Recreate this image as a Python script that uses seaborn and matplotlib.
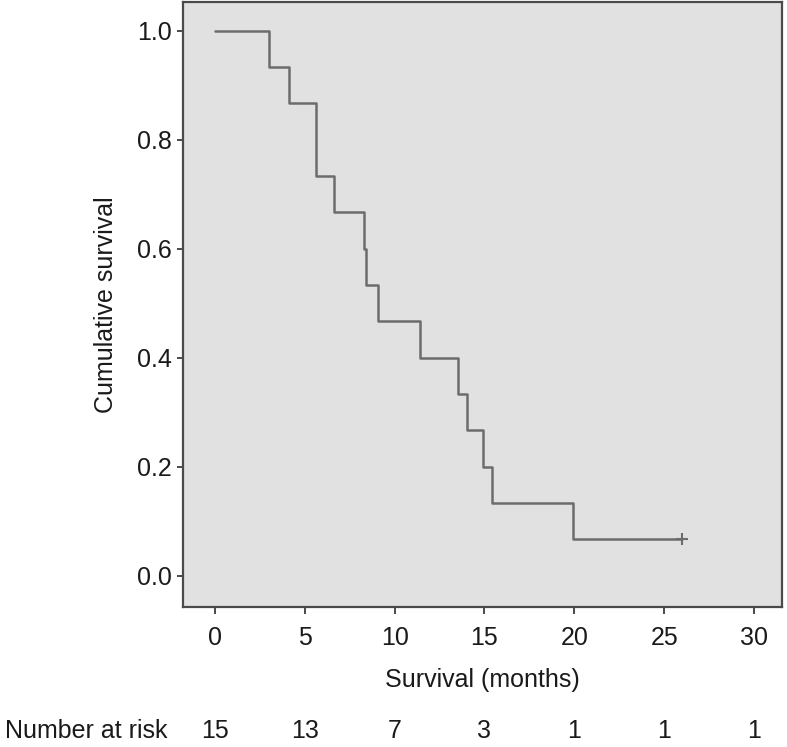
import matplotlib
matplotlib.use("Agg")
import matplotlib.pyplot as plt
import matplotlib.transforms as mtransforms
import seaborn as sns
import pandas as pd

# Data (Kaplan-Meier step curve)
step_times = [0.0, 3.0, 4.1, 5.6, 6.6, 8.3, 8.4, 9.1, 11.4, 13.5, 14.0, 14.9, 15.4, 19.9, 26.0]
step_surv = [1.0, 0.933, 0.867, 0.733, 0.667, 0.600, 0.533, 0.467, 0.400, 0.333, 0.267, 0.200, 0.133, 0.067, 0.067]
censor_times = [26.0]
censor_surv = [0.067]
x_ticks = [0, 5, 10, 15, 20, 25, 30]
y_ticks = [0.0, 0.2, 0.4, 0.6, 0.8, 1.0]
at_risk = [15, 13, 7, 3, 1, 1, 1]

sns.set_theme(style="ticks")
plt.rcParams['font.family'] = ['Liberation Sans', 'DejaVu Sans']

df = pd.DataFrame({"time": step_times, "surv": step_surv})
cdf = pd.DataFrame({"time": censor_times, "surv": censor_surv})

FS = 18
fig = plt.figure(figsize=(7.87, 7.47), dpi=100)
ax = fig.add_axes([183/787, 1-607/747, (782-183)/787, (607-2)/747])
ax.set_facecolor("#e1e1e1")

sns.lineplot(data=df, x="time", y="surv", ax=ax, drawstyle="steps-post",
             color="#6c6c6c", linewidth=1.8, errorbar=None)
sns.scatterplot(data=cdf, x="time", y="surv", ax=ax, marker="+", s=70,
                color="#6c6c6c", linewidth=1.5, zorder=3)

ax.set_xlim(-1.78, 31.56)
ax.set_ylim(-0.057, 1.053)
ax.set_xticks(x_ticks)
ax.set_xticklabels([str(t) for t in x_ticks])
ax.set_yticks(y_ticks)
ax.set_yticklabels([f"{v:.1f}" for v in y_ticks])

for s in ax.spines.values():
    s.set_color("#4a4a4a")
    s.set_linewidth(1.6)
    s.set_visible(True)

ax.tick_params(axis="both", direction="out", colors="#4a4a4a", labelcolor="#1a1a1a",
               labelsize=FS, width=1.4)
ax.tick_params(axis="y", length=4, pad=4)
ax.tick_params(axis="x", length=5, pad=9)

ax.set_xlabel("Survival (months)", fontsize=FS, color="#1a1a1a", labelpad=13)
ax.set_ylabel("Cumulative survival", fontsize=FS, color="#1a1a1a", labelpad=14)

trans = mtransforms.blended_transform_factory(ax.transData, fig.transFigure)
for t, n in zip(x_ticks, at_risk):
    ax.text(t, 1-731/747, str(n), transform=trans, ha="center", va="center",
            fontsize=FS, color="#1a1a1a", clip_on=False)
fig.text(5/787, 1-731/747, "Number at risk", ha="left", va="center",
         fontsize=FS, color="#1a1a1a")

fig.savefig("out.png", dpi=100)
